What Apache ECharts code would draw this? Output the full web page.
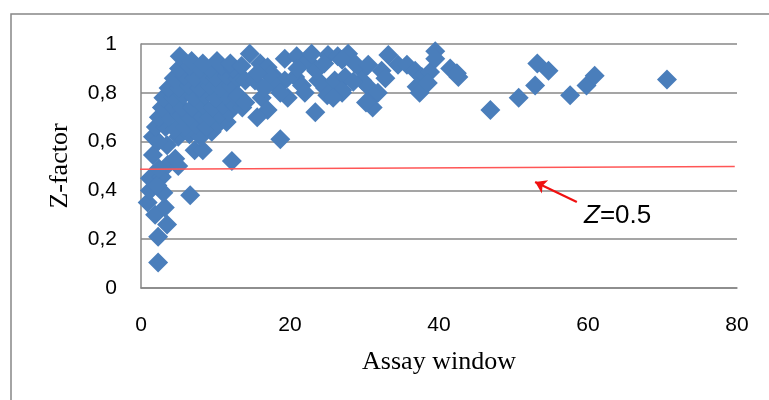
<!DOCTYPE html>
<html>
<head>
<meta charset="utf-8">
<script src="https://cdn.jsdelivr.net/npm/echarts@6/dist/echarts.min.js"></script>
<style>html,body{margin:0;padding:0;background:#fff}#c{width:769px;height:400px}</style>
</head>
<body>
<div id="c"></div>
<script>
// Assay window (x) and Z-factor (y) of each assay
var assayWindow = [
  2.3,2.3,3.5,1.9,0.9,3.2,1.2,3.0,1.2,2.8,2.2,3.6,5.0,4.6,2.4,1.6,3.5,6.6,12.2,7.2,8.3,1.6,2.3,
  5.0,6.5,8.0,9.5,
  2.0,3.3,4.6,6.0,7.4,8.8,10.3,11.5,
  2.4,3.7,5.1,6.5,7.9,9.2,10.6,11.8,
  2.8,4.1,5.5,6.9,8.3,9.7,11.0,12.5,13.6,
  3.0,4.3,5.7,7.1,8.6,10.0,11.4,12.9,
  3.7,5.0,6.4,7.8,9.3,10.7,12.1,
  4.4,5.8,7.2,8.6,10.0,11.5,13.0,
  5.1,6.5,7.9,9.3,10.8,12.3,
  5.2,6.8,8.3,10.2,12.0,
  14.6,13.5,16.0,17.0,19.3,20.9,22.4,22.9,25.1,26.4,14.0,15.3,18.0,19.3,20.7,21.6,23.8,24.7,26.0,27.0,
  13.0,14.0,16.2,17.0,15.6,19.7,18.7,23.4,22.0,25.0,21.0,23.5,24.6,17.3,15.6,18.2,18.7,16.6,
  27.8,27.0,28.7,29.7,30.5,33.2,32.3,34.5,35.7,36.8,37.7,38.8,39.5,39.5,41.5,42.6,27.4,27.0,29.7,30.5,
  31.0,31.1,31.8,32.8,37.0,37.4,38.5,28.5,30.2,25.8,
  42.4,46.9,50.7,52.9,53.2,54.7,57.6,59.8,60.9,70.6
];
var zFactor = [
  0.105,0.21,0.26,0.30,0.35,0.33,0.40,0.39,0.45,0.455,0.42,0.505,0.50,0.53,0.49,0.545,0.585,0.38,0.52,0.565,0.565,0.62,0.60,
  0.62,0.63,0.62,0.64,
  0.66,0.66,0.65,0.66,0.67,0.66,0.67,0.68,
  0.70,0.70,0.71,0.70,0.71,0.70,0.71,0.72,
  0.74,0.75,0.74,0.74,0.75,0.74,0.75,0.75,0.74,
  0.78,0.78,0.79,0.78,0.79,0.78,0.79,0.78,
  0.82,0.82,0.83,0.82,0.83,0.82,0.83,
  0.86,0.87,0.86,0.87,0.86,0.87,0.86,
  0.90,0.91,0.90,0.90,0.91,0.90,
  0.95,0.93,0.92,0.93,0.92,
  0.96,0.91,0.92,0.905,0.94,0.95,0.93,0.96,0.955,0.95,0.85,0.85,0.865,0.85,0.865,0.83,0.85,0.82,0.85,0.80,
  0.79,0.76,0.78,0.73,0.70,0.78,0.61,0.72,0.80,0.79,0.90,0.89,0.92,0.87,0.88,0.825,0.80,0.82,
  0.96,0.935,0.92,0.89,0.915,0.955,0.89,0.915,0.915,0.89,0.865,0.885,0.97,0.94,0.90,0.865,0.865,0.81,0.85,0.825,
  0.78,0.74,0.80,0.86,0.825,0.80,0.84,0.845,0.76,0.78,
  0.88,0.73,0.78,0.83,0.92,0.89,0.79,0.83,0.87,0.855
];
// Z = 0.5 reference line (as drawn, slightly tilted) and annotation arrow
var refLineX = [-1.1, 79.7];
var refLineY = [0.487, 0.498];
var arrowX = [58.5, 52.9];
var arrowY = [0.352, 0.434];
var xTicks = [0, 20, 40, 60, 80];
var yTicks = [0, 0.2, 0.4, 0.6, 0.8, 1];

var pts = assayWindow.map(function (x, i) { return [x, zFactor[i]]; });
var refPts = refLineX.map(function (x, i) { return [x, refLineY[i]]; });
var arrowCoords = arrowX.map(function (x, i) { return [x, arrowY[i]]; });

var chart = echarts.init(document.getElementById('c'), null, {renderer: 'canvas'});
var grey = '#878787';
chart.setOption({
  animation: false,
  backgroundColor: '#fff',
  grid: {left: 141, right: 32, top: 44, bottom: 112},
  xAxis: {
    type: 'value', min: xTicks[0], max: xTicks[xTicks.length - 1], interval: xTicks[1] - xTicks[0],
    axisLine: {show: true, lineStyle: {color: grey, width: 1.5}},
    axisTick: {show: false},
    splitLine: {show: false},
    axisLabel: {fontFamily: 'Liberation Sans', fontSize: 21, color: '#000', margin: 27},
    name: 'Assay window', nameLocation: 'middle', nameGap: 61,
    nameTextStyle: {fontFamily: 'Liberation Serif', fontSize: 26, color: '#000'}
  },
  yAxis: {
    type: 'value', min: yTicks[0], max: yTicks[yTicks.length - 1], interval: yTicks[1] - yTicks[0],
    axisLine: {show: true, lineStyle: {color: grey, width: 1.5}},
    axisTick: {show: false},
    splitLine: {show: true, lineStyle: {color: grey, width: 1.5}},
    axisLabel: {
      fontFamily: 'Liberation Sans', fontSize: 21, color: '#000', margin: 24,
      formatter: function (v) { return String(+v.toFixed(1)).replace('.', ','); }
    },
    name: 'Z-factor', nameLocation: 'middle', nameGap: 68,
    nameTextStyle: {fontFamily: 'Liberation Serif', fontSize: 26, color: '#000'}
  },
  series: [
    {
      type: 'scatter', data: pts, symbol: 'diamond', symbolSize: 20,
      itemStyle: {color: '#4a7ebb', opacity: 1}, z: 2
    },
    {
      type: 'line', data: refPts, symbol: 'none', clip: false, z: 3,
      lineStyle: {color: '#ff5656', width: 1.5}
    },
    {
      type: 'lines', coordinateSystem: 'cartesian2d', z: 4,
      symbol: ['none', 'arrow'], symbolSize: 11,
      lineStyle: {color: '#f01010', width: 2.2, opacity: 1},
      data: [{coords: arrowCoords}]
    }
  ],
  graphic: [
    {type: 'rect', shape: {x: 11, y: 14, width: 900, height: 500}, style: {fill: 'none', stroke: grey, lineWidth: 1.5}, silent: true},
    {type: 'text', left: 584, top: 203, style: {
      text: '{i|Z}=0.5', fontFamily: 'Liberation Sans', fontSize: 26, fill: '#000',
      rich: {i: {fontStyle: 'italic', fontFamily: 'Liberation Sans', fontSize: 26, fill: '#000'}}
    }}
  ]
});
</script>
</body>
</html>
